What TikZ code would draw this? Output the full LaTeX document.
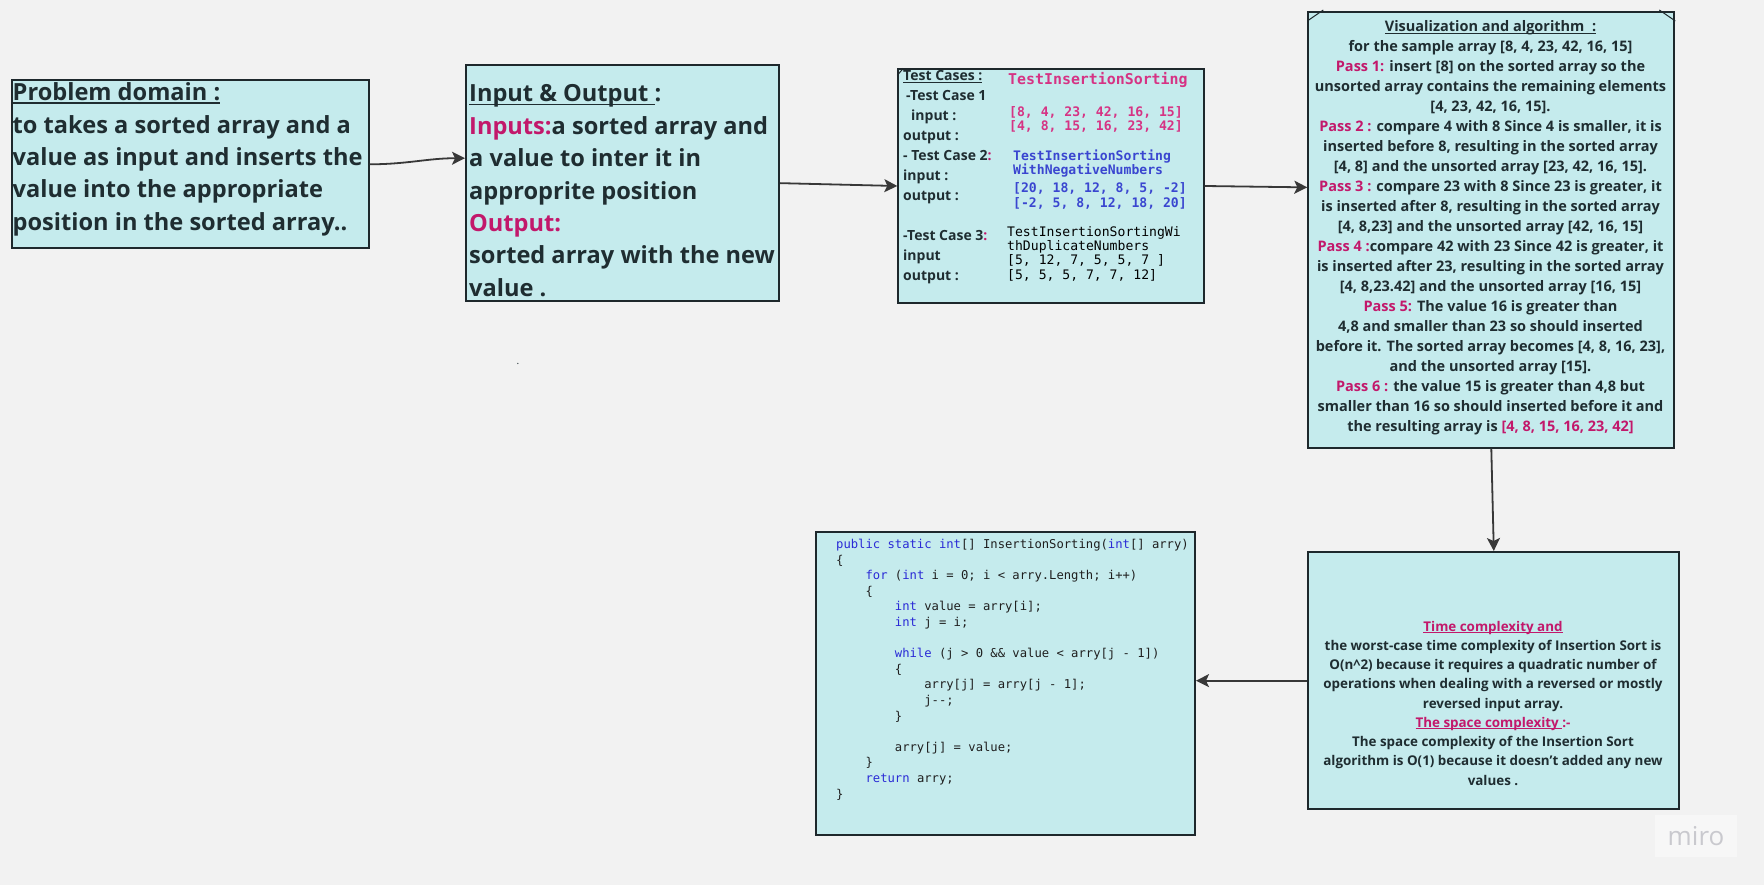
\documentclass[tikz,border=0pt]{standalone}
\usepackage{fontspec}
\setmainfont{Open Sans}
\newfontfamily\monofont{DejaVu Sans Mono}
\usepackage{tikz}
\usepackage{xcolor}
\usetikzlibrary{arrows.meta,calc}
\definecolor{Paper}{HTML}{F2F2F2}
\definecolor{Card}{HTML}{C5EBED}
\definecolor{Edge}{HTML}{1E282C}
\definecolor{Ink}{HTML}{1F2D31}
\definecolor{Magenta}{HTML}{C2186B}
\definecolor{MonoPink}{HTML}{D63384}
\definecolor{MonoBlue}{HTML}{3A46D0}
\definecolor{KeyBlue}{HTML}{2A2AD6}
\definecolor{Wire}{HTML}{383838}
\definecolor{Mark}{HTML}{C9C9CE}
\newcommand{\uln}[1]{\setbox0\hbox{#1}\rlap{\rule[-0.13em]{\wd0}{0.065em}}\box0}
\newcommand{\hstrut}{\vrule height .7\baselineskip depth 0pt width 0pt}
\newcommand{\tb}{\hspace*{2.408em}}
\newcommand{\kw}[1]{\textcolor{KeyBlue}{#1}}
\newcommand{\pass}[1]{\textcolor{Magenta}{#1}}

\begin{document}
\begin{tikzpicture}[x=1pt,y=-1pt,
  card/.style={draw=Edge,fill=Card,line width=2pt,inner sep=0pt,anchor=north west},
  txt/.style={inner sep=0pt,text=Ink,anchor=north west,align=left},
  big/.style={txt,font=\fontsize{23.6}{32.4}\selectfont\bfseries},
  mono/.style={txt,font=\monofont\fontsize{13.1}{14.7}\selectfont},
  link/.style={-{Stealth[length=13pt,width=13pt,inset=3pt]},line width=1.8pt,Wire}]
  \fill[Paper] (0,0) rectangle (1764,885);
  \useasboundingbox (0,0) rectangle (1764,885);

  % cards
  \node[card,minimum width=357pt,minimum height=168pt] (domain) at (10.7,79.3) {};
  \node[card,minimum width=313pt,minimum height=235.7pt] (io) at (465,64.3) {};
  \node[card,minimum width=305.4pt,minimum height=233.4pt] (tests) at (897.3,68.3) {};
  \node[card,minimum width=366pt,minimum height=435.7pt] (vis) at (1307.3,11) {};
  \node[card,minimum width=371pt,minimum height=257.3pt] (cplx) at (1307.3,551) {};
  \node[card,minimum width=379pt,minimum height=303.3pt] (code) at (815,531) {};
  \draw[Edge,line width=1pt] (vis.north west) ++(0,10) -- ++(16,-11);
  \draw[Edge,line width=1pt] (vis.north east) ++(-16,-1) -- ++(16,11);
  \draw[Edge,line width=1pt] (tests.north west) ++(0,7) -- ++(6,-7);

  % problem domain
  \node[big] (domaintxt) at (12.5,77.8) {\hstrut\uln{Problem domain :}\\
    to takes a sorted array and a\\
    value as input and inserts the\\
    value into the appropriate\\
    position in the sorted array..};

  % input and output
  \node[big] (iotxt) at (469,79.1) {\hstrut\uln{Input \& Output }:\\
    \pass{Inputs:}a sorted array and\\
    a value to inter it in\\
    approprite position\\
    \pass{Output:}\\
    sorted array with the new\\
    value .};

  % test cases
  \node[txt,font=\fontsize{14}{20}\selectfont\bfseries] (tclabels) at (903,66.7) {\hstrut\uln{Test Cases :}\\
    \hspace*{3pt}-Test Case 1\\
    \hspace*{8pt}input :\\
    output :\\
    - Test Case 2\pass{:}\\
    input :\\
    output :\\
    \mbox{}\\
    -Test Case 3\pass{:}\\
    input\\
    output :};
  \node[mono,text=MonoPink,font=\monofont\fontsize{14.9}{17}\selectfont\bfseries,anchor=base west] (tc1name) at (1008,85) {TestInsertionSorting};
  \node[mono,text=MonoPink,font=\monofont\fontsize{13.1}{14.7}\selectfont\bfseries] (tc1arr) at (1009,105.7) {\hstrut[8, 4, 23, 42, 16, 15]\\
    {}[4, 8, 15, 16, 23, 42]};
  \node[mono,text=MonoBlue,font=\monofont\fontsize{13.1}{14}\selectfont\bfseries] (tc2name) at (1013,149.5) {\hstrut TestInsertionSorting\\
    WithNegativeNumbers};
  \node[mono,text=MonoBlue,font=\monofont\fontsize{13.1}{15}\selectfont\bfseries] (tc2arr) at (1013,182.2) {\hstrut[20, 18, 12, 8, 5, -2]\\
    {}[-2, 5, 8, 12, 18, 20]};
  \node[mono,text=black,font=\monofont\fontsize{13.1}{14.3}\selectfont] (tc3) at (1007,226) {\hstrut TestInsertionSortingWi\\
    thDuplicateNumbers\\
    {}[5, 12, 7, 5, 5, 7 ]\\
    {}[5, 5, 5, 7, 7, 12]};

  % visualization
  \node[txt,align=center,anchor=north,font=\fontsize{14.5}{20}\selectfont\bfseries] (vistxt) at (1490.5,17.7) {\hstrut\uln{Visualization and algorithm\ \ :}\\
    for the sample array [8, 4, 23, 42, 16, 15]\\
    \pass{Pass 1:} insert [8] on the sorted array so the\\
    unsorted array contains the remaining elements\\
    {}[4, 23, 42, 16, 15].\\
    \pass{Pass 2 :} compare 4 with 8 Since 4 is smaller, it is\\
    inserted before 8, resulting in the sorted array\\
    {}[4, 8] and the unsorted array [23, 42, 16, 15].\\
    \pass{Pass 3 :} compare 23 with 8 Since 23 is greater, it\\
    is inserted after 8, resulting in the sorted array\\
    {}[4, 8,23] and the unsorted array [42, 16, 15]\\
    \pass{Pass 4 :}compare 42 with 23 Since 42 is greater, it\\
    is inserted after 23, resulting in the sorted array\\
    {}[4, 8,23.42] and the unsorted array [16, 15]\\
    \pass{Pass 5:} The value 16 is greater than\\
    4,8 and smaller than 23 so should inserted\\
    before it. The sorted array becomes [4, 8, 16, 23],\\
    and the unsorted array [15].\\
    \pass{Pass 6 :} the value 15 is greater than 4,8 but\\
    smaller than 16 so should inserted before it and\\
    the resulting array is \pass{[4, 8, 15, 16, 23, 42]}};

  % complexity
  \node[txt,align=center,anchor=north,font=\fontsize{13.4}{19.25}\selectfont\bfseries] (cplxtxt) at (1493,617.5) {\hstrut\pass{\uln{Time complexity and}}\\
    the worst-case time complexity of Insertion Sort is\\
    O(n\textasciicircum2) because it requires a quadratic number of\\
    operations when dealing with a reversed or mostly\\
    reversed input array.\\
    \pass{\uln{The space complexity }:-}\\
    The space complexity of the Insertion Sort\\
    algorithm is O(1) because it doesn't added any new\\
    values .};

  % code
  \node[txt,text=black!88,font=\monofont\fontsize{12.2}{15.6}\selectfont] (codetxt) at (836,537.4) {\hstrut\kw{public static int}[] InsertionSorting(\kw{int}[] arry)\\
    \{\\
    \tb\kw{for} (\kw{int} i = 0; i < arry.Length; i++)\\
    \tb\{\\
    \tb\tb\kw{int} value = arry[i];\\
    \tb\tb\kw{int} j = i;\\
    \mbox{}\\
    \tb\tb\kw{while} (j > 0 \&\& value < arry[j - 1])\\
    \tb\tb\{\\
    \tb\tb\tb arry[j] = arry[j - 1];\\
    \tb\tb\tb j-{}-;\\
    \tb\tb\}\\
    \mbox{}\\
    \tb\tb arry[j] = value;\\
    \tb\}\\
    \tb\kw{return} arry;\\
    \}};

  % stray mark and watermark
  \node[inner sep=0pt,text=Ink,font=\fontsize{10}{12}\selectfont] (dot) at (518,364) {.};
  \node[fill=white!40!Paper,text=Mark,minimum width=82pt,minimum height=42pt,inner sep=0pt,font=\fontsize{26}{30}\selectfont] (miro) at (1696,836) {miro};

  % connectors
  \draw[link] (domain.east) to[out=0,in=180] (io.171);
  \draw[link] (io.east) -- (tests.west);
  \draw[link] (tests.east) -- (vis.167);
  \draw[link] (vis.south) -- (cplx.north);
  \draw[link] (cplx.west) -- (cplx.west -| code.east);
\end{tikzpicture}
\end{document}
